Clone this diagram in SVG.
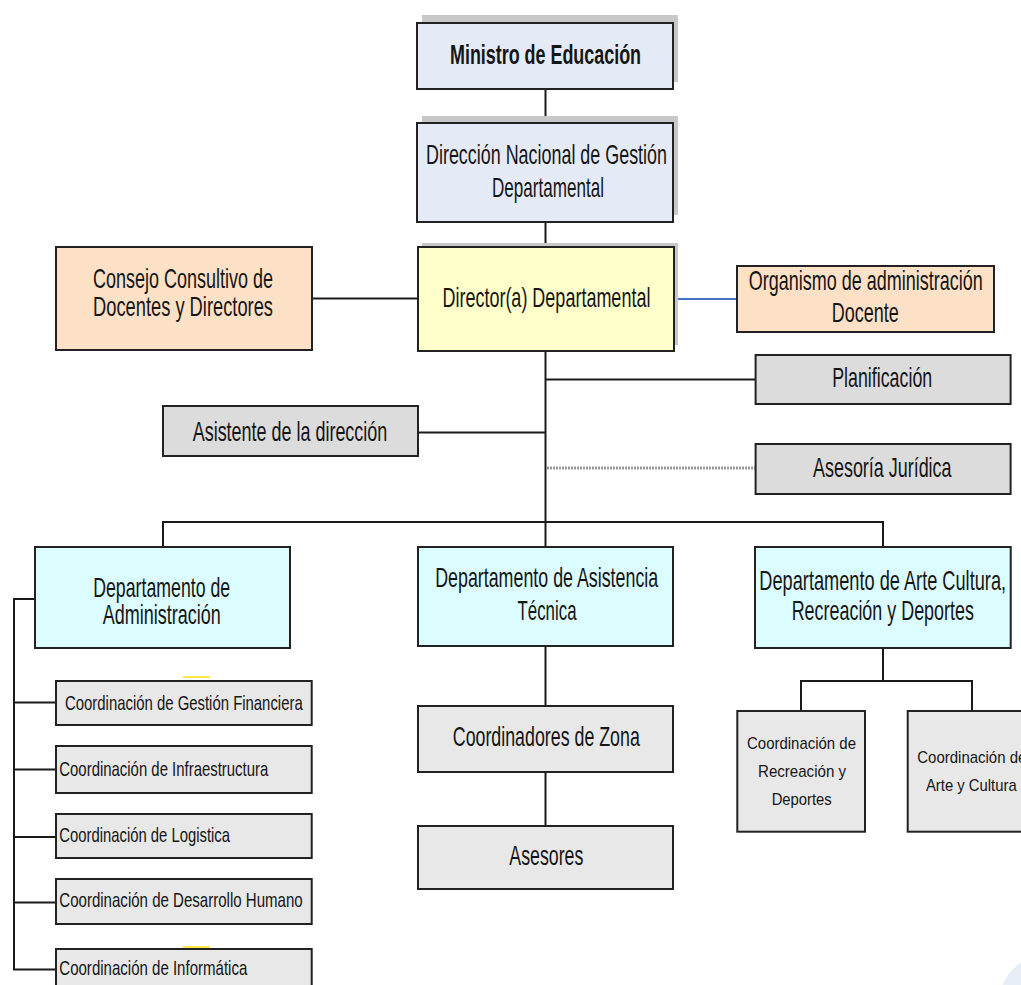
<svg xmlns="http://www.w3.org/2000/svg" width="1021" height="985" viewBox="0 0 1021 985">
<style>
  .box{stroke:#222;stroke-width:2}
  .shadow{fill:#c8c8c8}
  .blue{fill:#e5ebf6}
  .yellow{fill:#ffffcc}
  .peach{fill:#fde1c7}
  .gray{fill:#dcdcdc}
  .lgray{fill:#e8e8e8}
  .cyan{fill:#dcfdff}
  text{font-family:"Liberation Sans",Arial,sans-serif;fill:#151515}
  .m{font-size:28px;text-anchor:middle}
  .b{font-weight:bold}
  .s{font-size:21px}
  .xs{font-size:17px;text-anchor:middle}
  .ln{stroke:#1a1a1a;stroke-width:2;fill:none}
</style>
<rect width="1021" height="985" fill="#ffffff"/>
<circle cx="1050" cy="1005" r="51.5" fill="#e8eef8"/>

<g id="connectors">
  <path class="ln" d="M545.5 89V123M545.5 222V247"/>
  <path class="ln" d="M312 298.5H417"/>
  <path d="M674 299H737" stroke="#4472c4" stroke-width="2" fill="none"/>
  <path class="ln" d="M545.5 351V547"/>
  <path class="ln" d="M545.5 379.5H755"/>
  <path class="ln" d="M418 432.5H545.5"/>
  <path d="M547 468H755" stroke="#999" stroke-width="3" stroke-dasharray="2 1" fill="none"/>
  <path class="ln" d="M163 522H883M163 521V547M883 521V547"/>
  <path class="ln" d="M35 599H14V969.5H56M14 702.5H56M14 769.5H56M14 837H56M14 902.5H56"/>
  <path class="ln" d="M545.5 646V706M545.5 772V826"/>
  <path class="ln" d="M883 648V681M801 681H972M801 680V711M972 680V711"/>
</g>

<g id="ministro">
  <rect class="shadow" x="422" y="15" width="256" height="67"/>
  <rect class="box blue" x="417" y="23" width="256" height="66"/>
  <text class="m b" x="545.5" y="64" textLength="191" lengthAdjust="spacingAndGlyphs">Ministro de Educación</text>
</g>

<g id="direccion-nacional">
  <rect class="shadow" x="422" y="116" width="256" height="99"/>
  <rect class="box blue" x="417" y="123" width="256" height="99"/>
  <text class="m" x="546.5" y="164" textLength="241" lengthAdjust="spacingAndGlyphs">Dirección Nacional de Gestión</text>
  <text class="m" x="548" y="197" textLength="112" lengthAdjust="spacingAndGlyphs">Departamental</text>
</g>

<g id="director">
  <rect class="shadow" x="422" y="243" width="256" height="102"/>
  <rect class="box yellow" x="418" y="247" width="256" height="104"/>
  <text class="m" x="546.4" y="307" textLength="208" lengthAdjust="spacingAndGlyphs">Director(a) Departamental</text>
</g>

<g id="consejo">
  <rect class="box peach" x="56" y="247" width="256" height="103"/>
  <text class="m" x="183" y="288" textLength="180" lengthAdjust="spacingAndGlyphs">Consejo Consultivo de</text>
  <text class="m" x="183" y="316" textLength="180" lengthAdjust="spacingAndGlyphs">Docentes y Directores</text>
</g>

<g id="organismo">
  <rect class="box peach" x="737" y="266" width="257" height="66"/>
  <text class="m" x="865.8" y="290" textLength="234" lengthAdjust="spacingAndGlyphs">Organismo de administración</text>
  <text class="m" x="865.3" y="321.7" textLength="67" lengthAdjust="spacingAndGlyphs">Docente</text>
</g>

<g id="planificacion">
  <rect class="box gray" x="755.6" y="355" width="255" height="49"/>
  <text class="m" x="882.2" y="386.7" textLength="100" lengthAdjust="spacingAndGlyphs">Planificación</text>
</g>

<g id="asistente">
  <rect class="box gray" x="163" y="406" width="255" height="50"/>
  <text class="m" x="290" y="440.5" textLength="194.6" lengthAdjust="spacingAndGlyphs">Asistente de la dirección</text>
</g>

<g id="asesoria">
  <rect class="box gray" x="755.6" y="444" width="255" height="50"/>
  <text class="m" x="882.3" y="477.3" textLength="138.5" lengthAdjust="spacingAndGlyphs">Asesoría Jurídica</text>
</g>

<g id="dept-admin">
  <rect class="box cyan" x="35" y="547" width="255" height="101"/>
  <text class="m" x="161.7" y="596.7" textLength="137" lengthAdjust="spacingAndGlyphs">Departamento de</text>
  <text class="m" x="161.7" y="624" textLength="118" lengthAdjust="spacingAndGlyphs">Administración</text>
</g>

<g id="dept-asistencia">
  <rect class="box cyan" x="418" y="547" width="255" height="99"/>
  <text class="m" x="546.7" y="586.7" textLength="223" lengthAdjust="spacingAndGlyphs">Departamento de Asistencia</text>
  <text class="m" x="547" y="620" textLength="59" lengthAdjust="spacingAndGlyphs">Técnica</text>
</g>

<g id="dept-arte">
  <rect class="box cyan" x="755" y="547" width="255.7" height="101"/>
  <text class="m" x="882.7" y="590" textLength="246.7" lengthAdjust="spacingAndGlyphs">Departamento de Arte Cultura,</text>
  <text class="m" x="882.8" y="620" textLength="182.3" lengthAdjust="spacingAndGlyphs">Recreación y Deportes</text>
</g>

<g id="coord-zona">
  <rect class="box lgray" x="418" y="706" width="255" height="66"/>
  <text class="m" x="546.3" y="746" textLength="187" lengthAdjust="spacingAndGlyphs">Coordinadores de Zona</text>
</g>

<g id="asesores">
  <rect class="box lgray" x="418" y="826" width="255" height="63"/>
  <text class="m" x="546.3" y="865" textLength="74" lengthAdjust="spacingAndGlyphs">Asesores</text>
</g>

<g id="coord-financiera">
  <rect class="box lgray" x="56" y="681" width="255.7" height="44"/>
  <rect x="183" y="676" width="27" height="2" fill="#ffe84d"/>
  <text class="s" x="65" y="710" textLength="237.7" lengthAdjust="spacingAndGlyphs">Coordinación de Gestión Financiera</text>
</g>

<g id="coord-infraestructura">
  <rect class="box lgray" x="56" y="746" width="255.7" height="47"/>
  <text class="s" x="59.3" y="775.7" textLength="209" lengthAdjust="spacingAndGlyphs">Coordinación de Infraestructura</text>
</g>

<g id="coord-logistica">
  <rect class="box lgray" x="56" y="814" width="255.7" height="44"/>
  <text class="s" x="59.3" y="842" textLength="170.7" lengthAdjust="spacingAndGlyphs">Coordinación de Logistica</text>
</g>

<g id="coord-desarrollo">
  <rect class="box lgray" x="56" y="879" width="255.7" height="45"/>
  <text class="s" x="59.3" y="907" textLength="243.4" lengthAdjust="spacingAndGlyphs">Coordinación de Desarrollo Humano</text>
</g>

<g id="coord-informatica">
  <rect class="box lgray" x="56" y="949" width="255.7" height="46"/>
  <rect x="183" y="946" width="27" height="2" fill="#ffe84d"/>
  <text class="s" x="59.3" y="975" textLength="188" lengthAdjust="spacingAndGlyphs">Coordinación de Informática</text>
</g>

<g id="coord-recreacion">
  <rect class="box lgray" x="737.3" y="711" width="127.7" height="120.7"/>
  <text class="xs" x="801.5" y="749.3" textLength="109" lengthAdjust="spacingAndGlyphs">Coordinación de</text>
  <text class="xs" x="802" y="776.7" textLength="88" lengthAdjust="spacingAndGlyphs">Recreación y</text>
  <text class="xs" x="801.7" y="805" textLength="60" lengthAdjust="spacingAndGlyphs">Deportes</text>
</g>

<g id="coord-arte">
  <rect class="box lgray" x="907.7" y="711" width="128" height="120.7"/>
  <text class="xs" x="971.8" y="762.7" textLength="109" lengthAdjust="spacingAndGlyphs">Coordinación de</text>
  <text class="xs" x="971.3" y="790.7" textLength="90.7" lengthAdjust="spacingAndGlyphs">Arte y Cultura</text>
</g>
</svg>
